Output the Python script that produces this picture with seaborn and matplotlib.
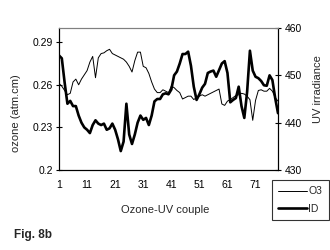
import numpy as np
import pandas as pd
import matplotlib
matplotlib.use("Agg")
import matplotlib.pyplot as plt
import seaborn as sns

couple = list(range(1, 80))
o3 = [0.261, 0.259, 0.256, 0.253, 0.254, 0.262, 0.264, 0.260, 0.264, 0.267,
      0.270, 0.276, 0.280, 0.265, 0.279, 0.282, 0.2825, 0.284, 0.285, 0.282,
      0.281, 0.280, 0.279, 0.278, 0.276, 0.273, 0.269, 0.277, 0.283, 0.283,
      0.273, 0.272, 0.268, 0.262, 0.257, 0.2545, 0.2545, 0.2565, 0.2555, 0.2545,
      0.259, 0.258, 0.256, 0.2545, 0.250, 0.251, 0.252, 0.252, 0.2496, 0.251,
      0.252, 0.253, 0.252, 0.253, 0.254, 0.255, 0.256, 0.257, 0.2465, 0.2455,
      0.2485, 0.2496, 0.251, 0.2525, 0.253, 0.254, 0.2535, 0.252, 0.2495, 0.235,
      0.249, 0.256, 0.2565, 0.2555, 0.2555, 0.2575, 0.2555, 0.251, 0.2485]
uv = [454.2, 453.6, 448.5, 444.0, 444.6, 443.5, 443.5, 441.5, 440.0, 439.0,
      438.5, 437.8, 439.5, 440.5, 439.8, 439.5, 439.8, 438.5, 438.8, 439.8,
      438.5, 436.5, 434.0, 436.0, 444.0, 437.5, 435.5, 437.5, 440.0, 441.5,
      440.6, 441.0, 439.5, 441.5, 444.5, 445.0, 445.0, 446.0, 446.2, 446.0,
      447.0, 450.0, 450.8, 452.5, 454.5, 454.5, 455.0, 452.0, 447.6, 444.8,
      446.0, 447.4, 448.2, 450.5, 450.8, 451.0, 449.7, 451.1, 452.5, 453.0,
      450.5, 444.3, 444.8, 445.2, 447.6, 443.5, 441.0, 446.5, 455.2, 451.0,
      449.7, 449.4, 448.8, 447.9, 447.8, 450.0, 449.0, 445.2, 442.0]
xticks = [1, 11, 21, 31, 41, 51, 61, 71]
yticks_left = [0.2, 0.23, 0.26, 0.29]
yticks_right = [430, 440, 450, 460]

df = pd.DataFrame({"couple": couple, "O3": o3, "ID": uv})

sns.set_style("white")
plt.rcParams['font.family'] = ['Liberation Sans', 'DejaVu Sans']

fig = plt.figure(figsize=(3.3, 2.5), dpi=100)
ax = fig.add_axes([59/330, 80/250, 219/330, 142/250])
ax2 = ax.twinx()

l1 = sns.lineplot(data=df, x="couple", y="O3", ax=ax, color="black", linewidth=0.7, legend=False)
sns.lineplot(data=df, x="couple", y="ID", ax=ax2, color="black", linewidth=1.9, legend=False)

ax.set_xlim(1, 79)
ax.set_ylim(0.2, 0.30)
ax2.set_ylim(430, 460)
ax.set_xticks(xticks)
ax.set_xticklabels([str(t) for t in xticks])
ax.set_yticks(yticks_left)
ax.set_yticklabels(["0.2", "0.23", "0.26", "0.29"])
ax2.set_yticks(yticks_right)
ax2.set_yticklabels([str(t) for t in yticks_right])

for a in (ax, ax2):
    a.tick_params(direction="inout", length=5, width=0.8, labelsize=7.5, colors="black", pad=2)
    for s in a.spines.values():
        s.set_linewidth(0.8)
        s.set_color("black")
    a.spines["top"].set_color("#808080")
ax.tick_params(axis="x", pad=5)
ax.set_xlabel("")
ax.set_ylabel("")
ax2.set_ylabel("")

fig.text(165/330, 1 - 210/250, "Ozone-UV couple", ha="center", va="center", fontsize=8)
fig.text(16/330, 1 - 113/250, "ozone (atm.cm)", ha="center", va="center", rotation=90, fontsize=8)
fig.text(318/330, 1 - 89/250, "UV irradiance", ha="center", va="center", rotation=90, fontsize=8)
fig.text(14/330, 1 - 235/250, "Fig. 8b", ha="left", va="center", fontsize=8.5, fontweight="bold")

from matplotlib.lines import Line2D
handles = [Line2D([], [], color="black", linewidth=0.7),
           Line2D([], [], color="black", linewidth=1.9)]
leg = fig.legend(handles, ["O3", "ID"], loc="upper left",
                 bbox_to_anchor=(272/330, 1 - 180/250), borderaxespad=0,
                 fontsize=7.5, frameon=True, fancybox=False, edgecolor="black",
                 handlelength=2.8, handletextpad=0.1, labelspacing=0.75,
                 borderpad=0.6)
leg.get_frame().set_linewidth(0.8)

fig.savefig("out.png", dpi=100)
